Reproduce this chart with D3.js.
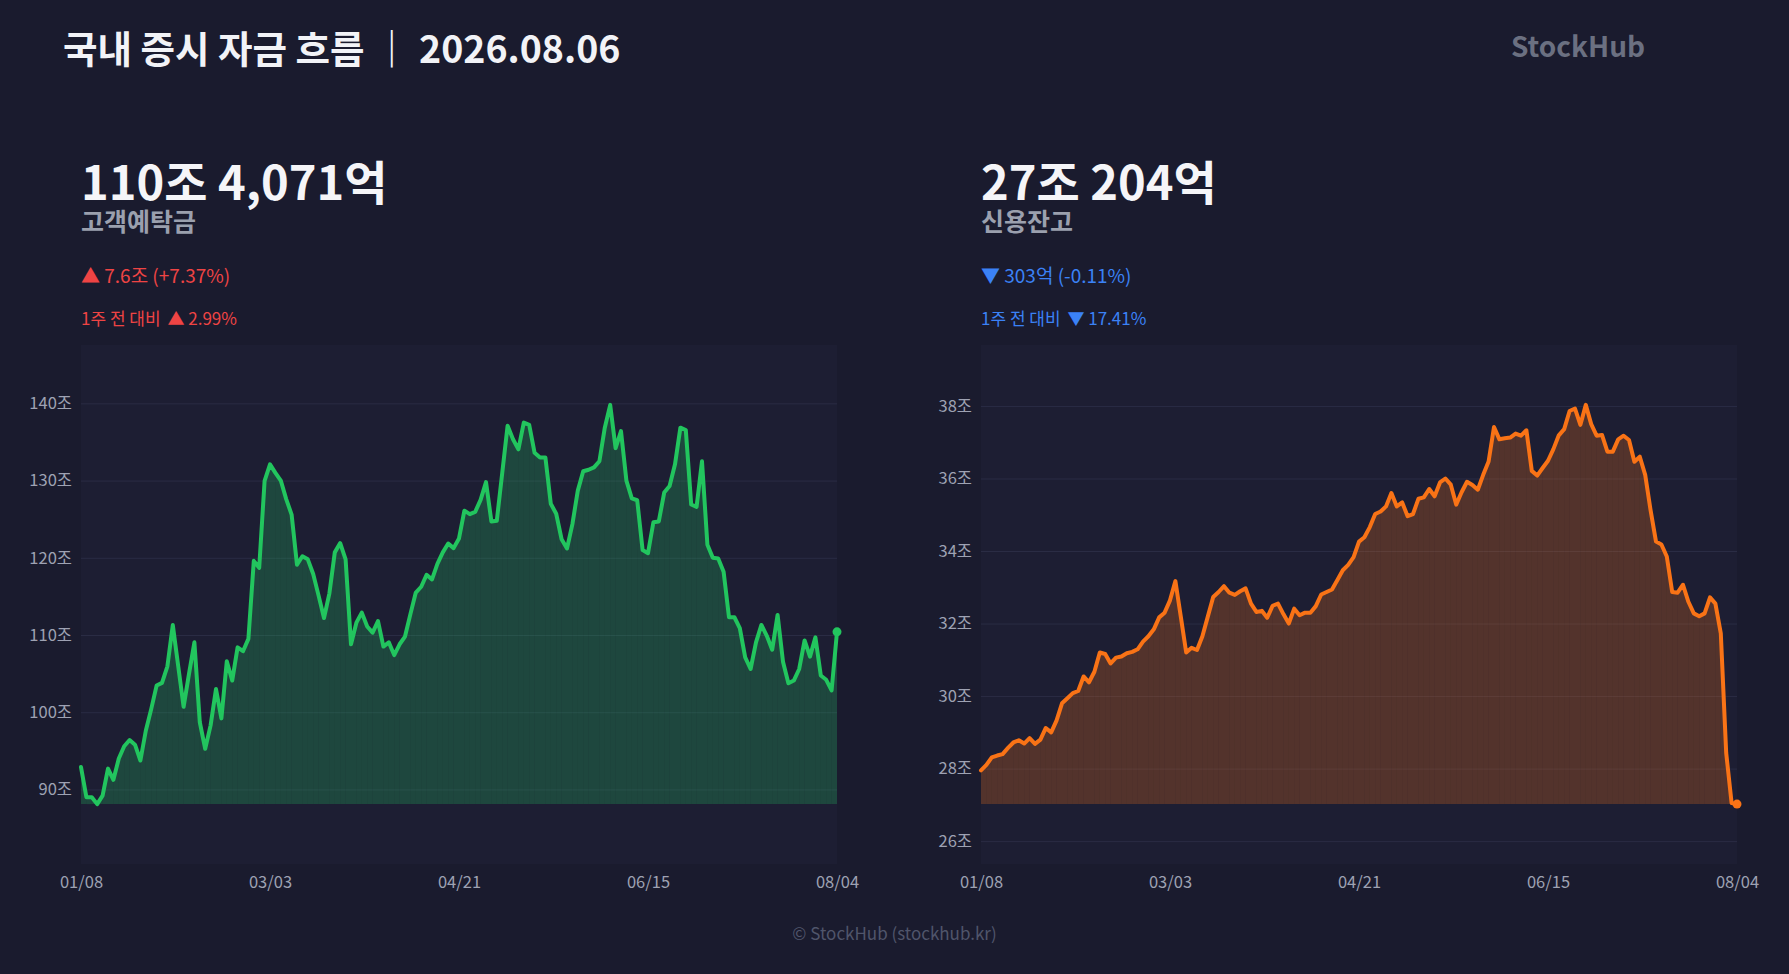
<!DOCTYPE html>
<html><head><meta charset="utf-8">
<script src="https://cdn.jsdelivr.net/npm/d3@7/dist/d3.min.js"></script>
<style>
html,body{margin:0;padding:0;background:#1a1b2e;overflow:hidden;}
svg{display:block;}
text{font-family:"Noto Sans CJK KR","Noto Sans",sans-serif;}
</style></head><body>
<svg id="chart" width="1789" height="974"></svg>
<script>
// ---------- data ----------
const titleText = "국내 증시 자금 흐름 ｜ 2026.08.06";
const brandText = "StockHub";
const footerText = "© StockHub (stockhub.kr)";

const xTickIndex  = [0, 35, 70, 105, 140];
const xTickLabels = ["01/08", "03/03", "04/21", "06/15", "08/04"];

const depositTicks = [90, 100, 110, 120, 130, 140];
const creditTicks  = [26, 28, 30, 32, 34, 36, 38];

const panelNames = ["고객예탁금", "신용잔고"];
const headlines  = ["110조 4,071억", "27조 204억"];
const dayChanges = ["▲ 7.6조 (+7.37%)", "▼ 303억 (-0.11%)"];
const weekPrefix = "1주 전 대비";
const weekChanges = ["▲ 2.99%", "▼ 17.41%"];

// 고객예탁금 (조원), trading days 01/08 .. 08/04
const deposit = [
  92.9, 89.0, 89.0, 88.1, 89.2, 92.7, 91.25, 94.0, 95.6, 96.4,
  95.8, 93.75, 97.6, 100.4, 103.45, 103.8, 105.95, 111.3, 106.0, 100.7,
  104.96, 109.05, 98.7, 95.26, 98.3, 103.0, 99.2, 106.6, 104.1, 108.4,
  107.9, 109.5, 119.6, 118.7, 129.96, 132.1, 131.0, 130.0, 127.6, 125.6,
  119.1, 120.2, 119.8, 117.9, 115.1, 112.2, 115.4, 120.7, 121.9, 119.8,
  108.8, 111.6, 112.9, 111.1, 110.3, 111.8, 108.5, 109.05, 107.4, 108.8,
  109.8, 112.7, 115.5, 116.25, 117.8, 117.2, 119.2, 120.7, 121.85, 121.25,
  122.5, 126.1, 125.65, 125.95, 127.5, 129.8, 124.7, 124.8, 130.95, 137.1,
  135.35, 134.05, 137.5, 137.2, 133.6, 133.0, 133.0, 127.0, 125.7, 122.4,
  121.2, 124.35, 128.7, 131.2, 131.4, 131.7, 132.5, 136.85, 139.8, 134.2,
  136.4, 130.0, 127.7, 127.45, 121.0, 120.6, 124.6, 124.7, 128.45, 129.3,
  132.1, 136.85, 136.55, 126.9, 126.6, 132.5, 121.7, 120.0, 119.9, 118.2,
  112.3, 112.3, 110.9, 107.1, 105.6, 109.05, 111.3, 109.9, 108.1, 112.6,
  106.55, 103.75, 104.1, 105.6, 109.3, 107.2, 109.7, 104.75, 104.2, 102.83,
  110.41
];

// 신용잔고 (조원)
const credit = [
  27.95, 28.1, 28.31, 28.36, 28.4, 28.57, 28.72, 28.78, 28.69, 28.84,
  28.68, 28.8, 29.12, 29.0, 29.33, 29.8, 29.94, 30.08, 30.14, 30.54,
  30.38, 30.67, 31.2, 31.16, 30.9, 31.06, 31.09, 31.18, 31.22, 31.29,
  31.5, 31.65, 31.84, 32.17, 32.3, 32.64, 33.17, 32.19, 31.2, 31.33,
  31.27, 31.65, 32.19, 32.73, 32.87, 33.03, 32.85, 32.79, 32.89, 32.97,
  32.55, 32.32, 32.35, 32.16, 32.49, 32.55, 32.26, 32.0, 32.41, 32.23,
  32.3, 32.3, 32.48, 32.8, 32.87, 32.94, 33.2, 33.47, 33.62, 33.83,
  34.26, 34.38, 34.66, 35.02, 35.09, 35.23, 35.6, 35.23, 35.34, 34.96,
  35.02, 35.44, 35.48, 35.71, 35.51, 35.89, 36.0, 35.83, 35.28, 35.62,
  35.91, 35.82, 35.69, 36.1, 36.47, 37.42, 37.08, 37.11, 37.13, 37.24,
  37.18, 37.33, 36.21, 36.08, 36.29, 36.49, 36.81, 37.19, 37.36, 37.86,
  37.93, 37.48, 38.03, 37.5, 37.18, 37.2, 36.74, 36.74, 37.08, 37.18,
  37.06, 36.46, 36.6, 36.1, 35.12, 34.26, 34.18, 33.85, 32.87, 32.85,
  33.07, 32.6, 32.28, 32.2, 32.28, 32.72, 32.55, 31.73, 28.43, 27.05,
  27.02
];

// ---------- layout / style ----------
const W = 1789, H = 974;
const FONT = '"Noto Sans CJK KR","Noto Sans",sans-serif';
const svg = d3.select("#chart");
svg.append("rect").attr("width", W).attr("height", H).attr("fill", "#1a1b2e");

svg.append("text").attr("x", 63).attr("y", 63)
  .attr("font-size", 37.5).attr("font-weight", 700).attr("fill", "#f2f3f7")
  .text(titleText);
svg.append("text").attr("x", 1645).attr("y", 57).attr("text-anchor", "end")
  .attr("font-size", 28).attr("font-weight", 700).attr("fill", "#6b7081")
  .text(brandText);
svg.append("text").attr("x", W / 2).attr("y", 940).attr("text-anchor", "middle")
  .attr("font-size", 17).attr("fill", "#50556b")
  .text(footerText);

const panels = [
  { x0: 81,  series: deposit, ticks: depositTicks, line: "#22c55e", dir: "#ef4444" },
  { x0: 981, series: credit,  ticks: creditTicks,  line: "#f97316", dir: "#3b82f6" }
];

const plotTop = 345, plotBottom = 864, plotW = 756;

panels.forEach((p, k) => {
  const g = svg.append("g");
  // header texts
  g.append("text").attr("x", p.x0).attr("y", 200)
    .attr("font-size", 47).attr("font-weight", 700).attr("fill", "#f5f5f8")
    .text(headlines[k]);
  g.append("text").attr("x", p.x0).attr("y", 231)
    .attr("font-size", 25).attr("font-weight", 700).attr("fill", "#9ba0ae")
    .text(panelNames[k]);
  g.append("text").attr("x", p.x0).attr("y", 283)
    .attr("font-size", 19).attr("fill", p.dir)
    .text(dayChanges[k]);
  const wk = g.append("text").attr("x", p.x0).attr("y", 325)
    .attr("font-size", 17).attr("fill", p.dir);
  wk.append("tspan").text(weekPrefix + " ");
  wk.append("tspan").attr("dx", 3).text(weekChanges[k]);

  const n = p.series.length;
  const vmin = d3.min(p.series), vmax = d3.max(p.series);
  const pad = (vmax - vmin) * 0.15;
  const x = d3.scaleLinear().domain([0, n - 1]).range([p.x0, p.x0 + plotW]);
  const y = d3.scaleLinear().domain([vmin - pad, vmax + pad]).range([plotBottom, plotTop]);

  g.append("rect").attr("x", p.x0).attr("y", plotTop)
    .attr("width", plotW).attr("height", plotBottom - plotTop)
    .attr("fill", "#1d1e33");

  // y axis + grid
  const yAxis = d3.axisLeft(y).tickValues(p.ticks).tickSize(-plotW)
    .tickPadding(9).tickFormat(d => d + "조");
  const ya = g.append("g").attr("transform", `translate(${p.x0},0)`).call(yAxis);
  ya.select(".domain").remove();
  ya.selectAll("line").attr("stroke", "#2a2c44").attr("stroke-width", 1);
  ya.selectAll("text").attr("fill", "#9ea2b3").attr("font-size", 16.5)
    .attr("font-family", FONT);

  // x axis
  const xAxis = d3.axisBottom(x).tickValues(xTickIndex)
    .tickFormat((d, i) => xTickLabels[i]).tickSize(0).tickPadding(12);
  const xa = g.append("g").attr("transform", `translate(0,${plotBottom})`).call(xAxis);
  xa.select(".domain").remove();
  xa.selectAll("text").attr("fill", "#9ea2b3").attr("font-size", 16.5)
    .attr("font-family", FONT);

  const pts = p.series.map((v, i) => ({ i, v }));
  const area = d3.area().x(d => x(d.i)).y0(y(vmin)).y1(d => y(d.v));
  const fillG = g.append("g").attr("fill", p.line).attr("fill-opacity", 0.25);
  for (let i = 0; i < n - 1; i++) {
    fillG.append("path").attr("d", area([pts[i], pts[i + 1]]));
  }
  const line = d3.line().x(d => x(d.i)).y(d => y(d.v));
  g.append("path").attr("d", line(pts)).attr("fill", "none")
    .attr("stroke", p.line).attr("stroke-width", 4)
    .attr("stroke-linejoin", "round").attr("stroke-linecap", "round");
  g.append("circle").attr("cx", x(n - 1)).attr("cy", y(p.series[n - 1]))
    .attr("r", 4.5).attr("fill", p.line);
});
</script>
</body></html>
